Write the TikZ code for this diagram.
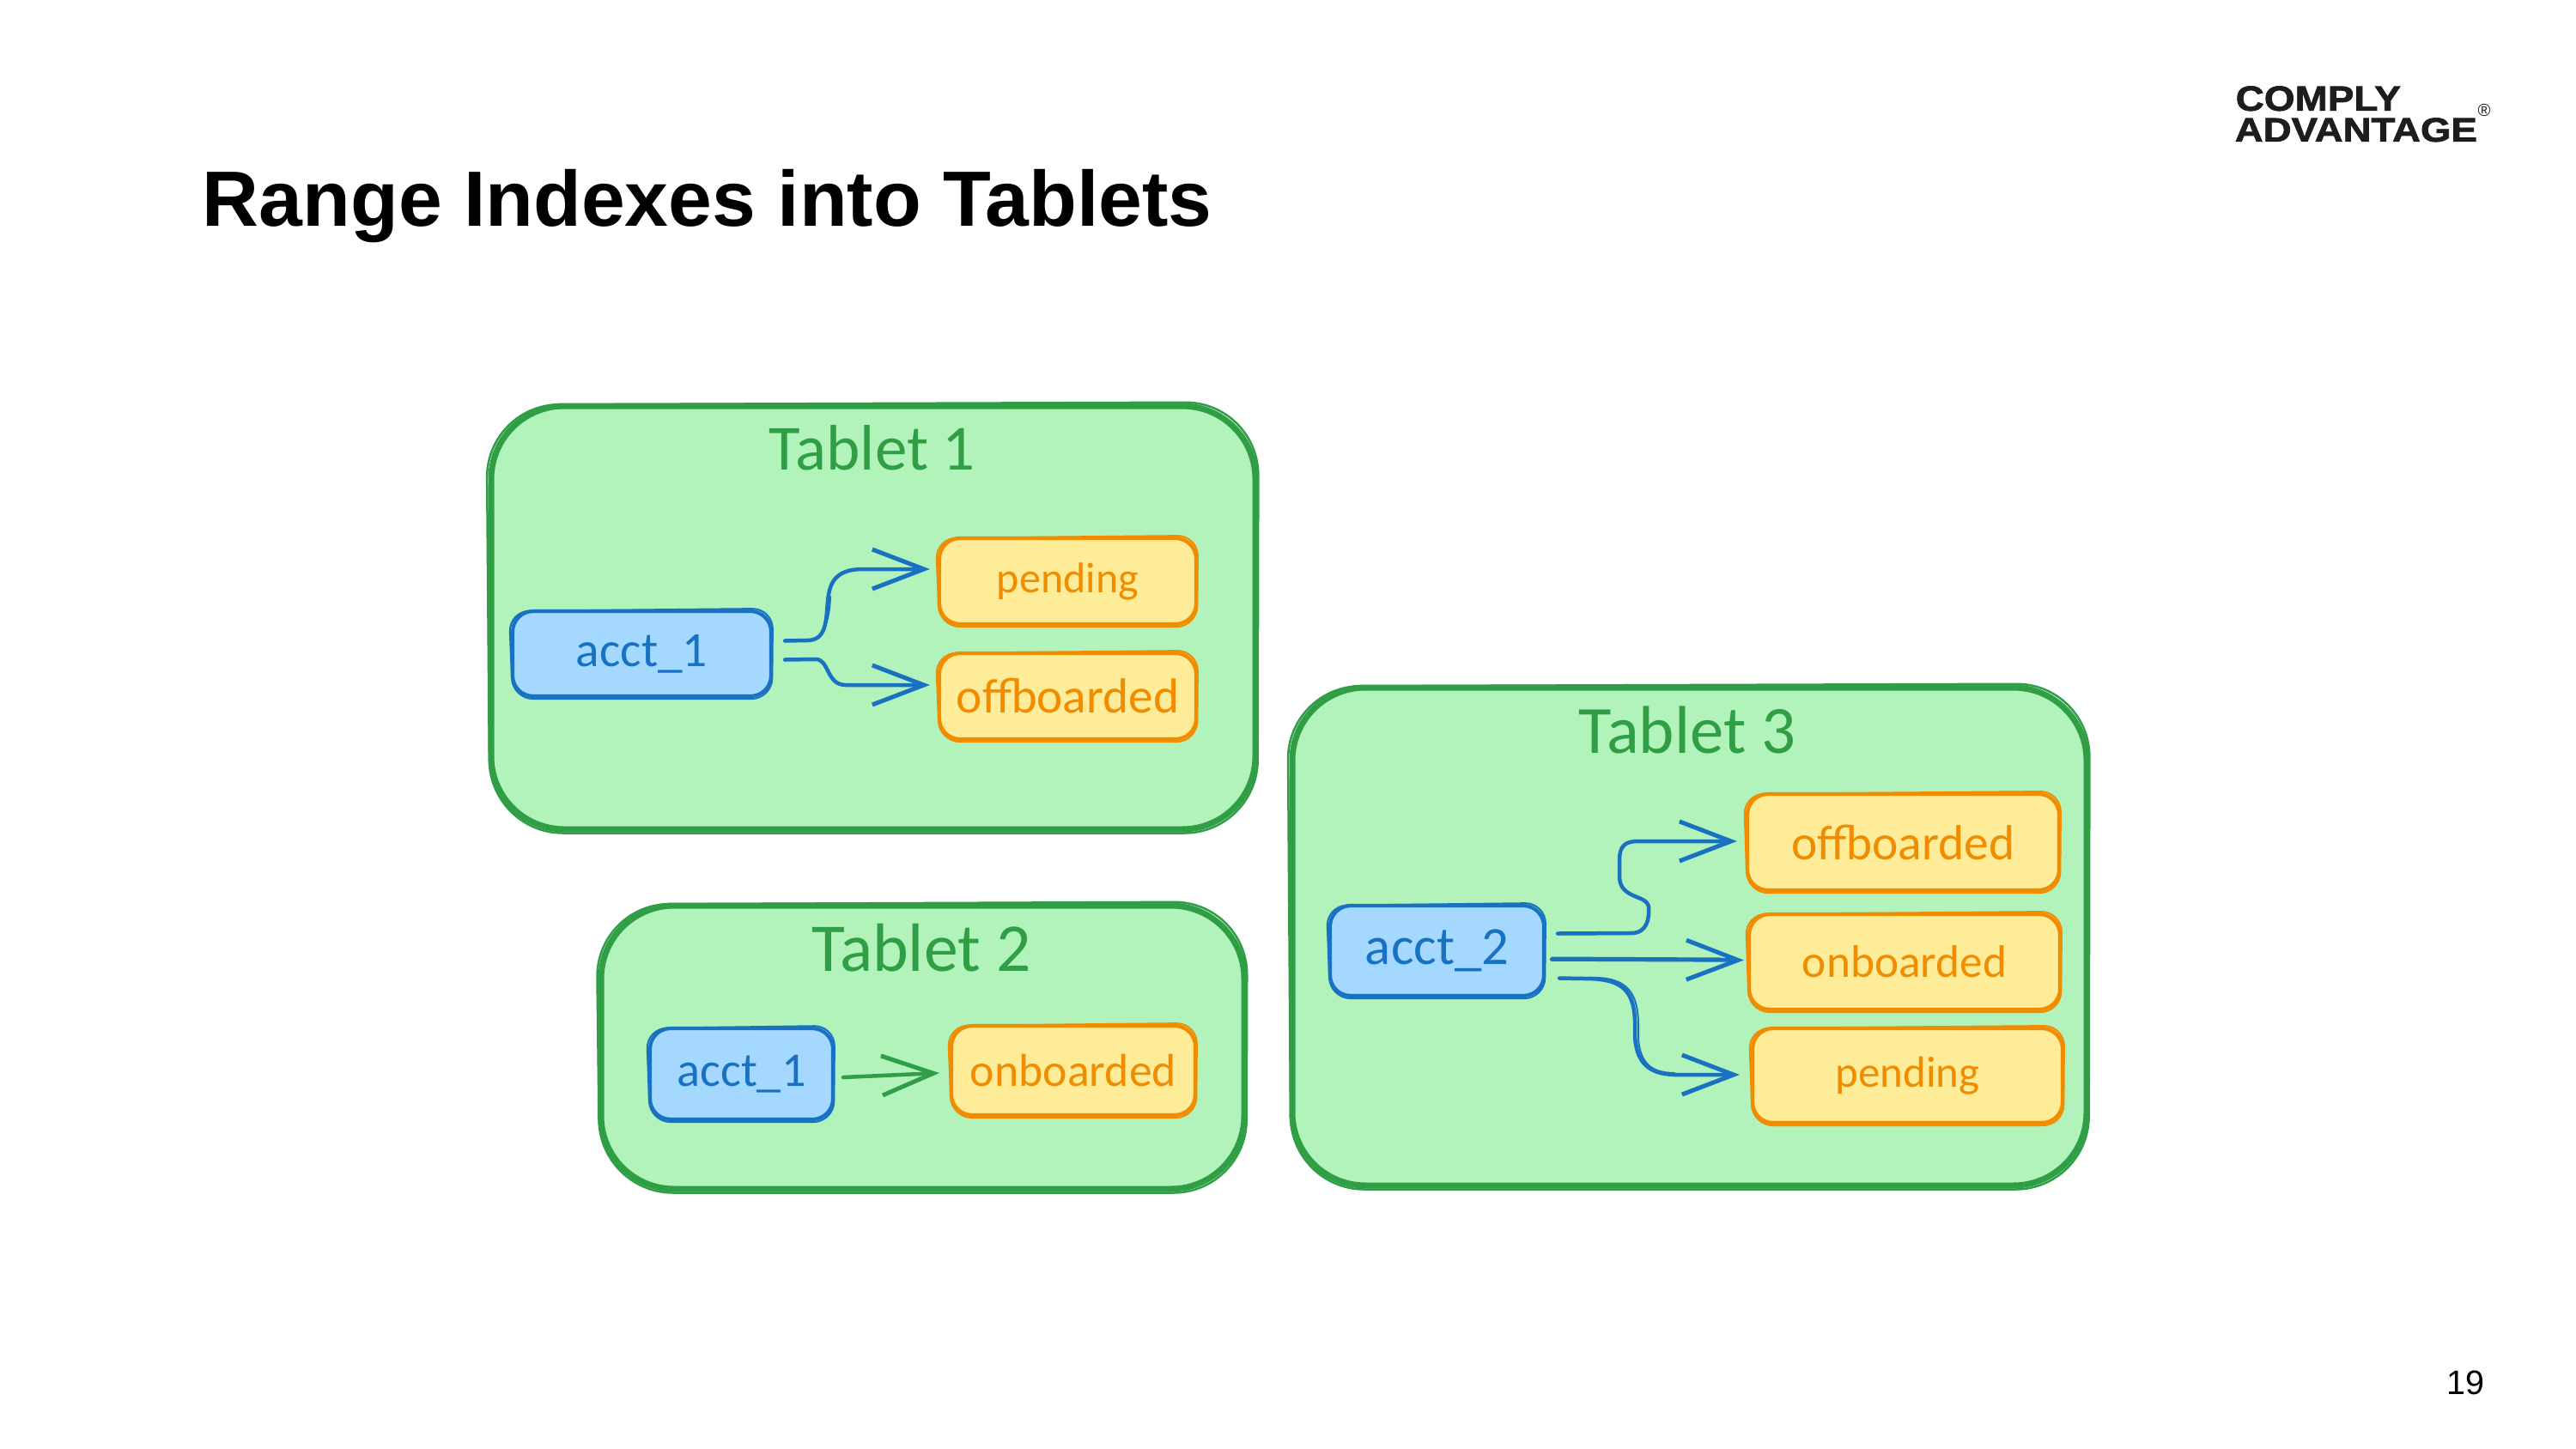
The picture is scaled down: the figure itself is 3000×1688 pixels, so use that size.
\documentclass[tikz,border=0pt]{standalone}
\usepackage{fontspec}
\usepackage{graphicx}
\usetikzlibrary{arrows.meta,calc}
\setmainfont{Liberation Sans}
\newfontfamily\handfont{Carlito}
\newfontfamily\logofont[FakeBold=1.6]{Liberation Sans Bold}
\definecolor{gfill}{HTML}{B2F2BB}\definecolor{gline}{HTML}{2F9E44}
\definecolor{bfill}{HTML}{A5D8FF}\definecolor{bline}{HTML}{1971C2}
\definecolor{yfill}{HTML}{FFEC99}\definecolor{yline}{HTML}{F08C00}
\definecolor{inkblack}{HTML}{1D1D1B}
\newcommand{\fitw}[2]{\resizebox{#1cm}{!}{#2}}
\newcommand{\sketchbox}[7]{% name,x0,y0,x1,y1,style,text
  \node[#6,minimum width={(#4-#2)*0.01cm},minimum height={(#5-#3)*0.01cm}] (#1) at ({(#2+#4)/2},{(#3+#5)/2}) {#7};
}
\newcommand{\sketchline}[2]{% node,style : second pen pass
  \draw[#2] ($(#1.north west)+(-2,2)$) -- ($(#1.north east)+(0,-1)$) -- ($(#1.south east)+(-1,1)$) -- ($(#1.south west)+(2,1)$) -- cycle;
}
\tikzset{
  x=0.01cm,y=-0.01cm,
  tablet/.style={draw=gline,fill=gfill,line width=0.07cm,rounded corners=0.85cm,inner sep=0pt,line join=round},
  tabletpass/.style={draw=gline,line width=0.025cm,rounded corners=0.85cm},
  keybox/.style={draw=bline,fill=bfill,line width=0.042cm,rounded corners=0.24cm,inner sep=0pt,text=bline},
  keypass/.style={draw=bline,line width=0.02cm,rounded corners=0.24cm},
  valbox/.style={draw=yline,fill=yfill,line width=0.042cm,rounded corners=0.24cm,inner sep=0pt,text=yline},
  valpass/.style={draw=yline,line width=0.02cm,rounded corners=0.24cm},
  tabtitle/.style={text=gline,inner sep=0pt},
  conn/.style={draw=bline,line width=0.045cm,line cap=round,line join=round,-{Straight Barb[length=0.6cm,width=0.46cm,line width=0.05cm]}},
  connpass/.style={draw=bline,line width=0.02cm,line cap=round},
  conng/.style={conn,draw=gline},
  plain/.style={inner sep=0pt,text=black},
  logo/.style={inner sep=0pt,text=inkblack,anchor=south west},
}
\begin{document}
\begin{tikzpicture}
\useasboundingbox (0,0) rectangle (3000,1688);
\fill[white] (0,0) rectangle (3000,1688);

\node[plain,anchor=west] (title) at (235,240) {\fitw{11.75}{\bfseries Range Indexes into Tablets}};
\node[logo] (logoa) at (2603,130) {\resizebox{1.92cm}{0.285cm}{\logofont COMPLY}};
\node[logo] (logob) at (2602,166) {\resizebox{2.82cm}{0.275cm}{\logofont ADVANTAGE}};
\node[inner sep=0pt,text=inkblack] (logor) at (2893,128) {\fitw{0.15}{®}};
\node[plain] (pageno) at (2871,1611) {\fitw{0.44}{19}};

% Tablet 1
\sketchbox{t1}{572}{473}{1462}{966}{tablet}{}
\sketchline{t1}{tabletpass}
\node[tabtitle] (t1title) at (1016,522) {\fitw{2.4}{\handfont Tablet 1}};
\sketchbox{a1}{597}{712}{898}{811}{keybox}{\fitw{1.53}{\handfont acct\_1}}
\sketchline{a1}{keypass}
\sketchbox{p1}{1094}{627}{1393}{727}{valbox}{\fitw{1.65}{\handfont pending}}
\sketchline{p1}{valpass}
\sketchbox{o1}{1094}{761}{1393}{861}{valbox}{\fitw{2.59}{\handfont offboarded}}
\sketchline{o1}{valpass}
\draw[conn] ($(a1.east)+(14,-15)$) -- (940,746) .. controls (962,746) and (962,725) .. (964,700) .. controls (966,680) and (972,663) .. (1005,663) -- ($(p1.west)+(-9,-14)$);
\draw[connpass] ($(a1.east)+(14,-15)$) -- (938,747) .. controls (958,748) and (966,725) .. (967,695);
\draw[conn] ($(a1.east)+(14,7)$) -- (950,768) .. controls (966,768) and (962,798) .. (985,798) -- ($(o1.west)+(-9,-13)$);
\draw[connpass] ($(a1.east)+(14,7)$) -- (940,769);

% Tablet 2
\sketchbox{t2}{700}{1055}{1449}{1385}{tablet}{}
\sketchline{t2}{tabletpass}
\node[tabtitle] (t2title) at (1073,1104) {\fitw{2.55}{\handfont Tablet 2}};
\sketchbox{a2}{757}{1198}{970}{1304}{keybox}{\fitw{1.5}{\handfont acct\_1}}
\sketchline{a2}{keypass}
\sketchbox{o2}{1108}{1195}{1392}{1299}{valbox}{\fitw{2.4}{\handfont onboarded}}
\sketchline{o2}{valpass}
\draw[conng] ($(a2.east)+(10,4)$) -- ($(o2.west)+(-12,3)$);

% Tablet 3
\sketchbox{t3}{1505}{801}{2430}{1381}{tablet}{}
\sketchline{t3}{tabletpass}
\node[tabtitle] (t3title) at (1965,850) {\fitw{2.52}{\handfont Tablet 3}};
\sketchbox{a3}{1549}{1055}{1798}{1160}{keybox}{\fitw{1.67}{\handfont acct\_2}}
\sketchline{a3}{keypass}
\sketchbox{o3}{2035}{925}{2398}{1037}{valbox}{\fitw{2.6}{\handfont offboarded}}
\sketchline{o3}{valpass}
\sketchbox{n3}{2037}{1065}{2399}{1176}{valbox}{\fitw{2.38}{\handfont onboarded}}
\sketchline{n3}{valpass}
\sketchbox{p3}{2041}{1198}{2402}{1308}{valbox}{\fitw{1.68}{\handfont pending}}
\sketchline{p3}{valpass}
\draw[conn] ($(a3.east)+(14,-20)$) -- (1900,1087) .. controls (1918,1087) and (1921,1070) .. (1920,1057) .. controls (1919,1042) and (1887,1048) .. (1886,1022) -- (1886,1002) .. controls (1886,985) and (1893,980) .. (1908,980) -- ($(o3.west)+(-10,-1)$);
\draw[connpass] ($(a3.east)+(14,-19)$) -- (1895,1088);
\draw[conn] ($(a3.east)+(7,10)$) -- ($(n3.west)+(-4,-2)$);
\draw[connpass] ($(a3.east)+(7,8)$) -- ($(n3.west)+(-30,-4)$);
\draw[conn] ($(a3.east)+(16,32)$) -- (1845,1140) .. controls (1885,1140) and (1903,1150) .. (1904,1190) -- (1904,1205) .. controls (1905,1240) and (1922,1251) .. (1950,1252) -- ($(p3.west)+(-13,-1)$);
\draw[connpass] ($(a3.east)+(16,32)$) -- (1845,1139) .. controls (1890,1137) and (1908,1150) .. (1908,1195) -- (1908,1210) .. controls (1910,1240) and (1925,1250) .. (1950,1250);
\end{tikzpicture}
\end{document}
